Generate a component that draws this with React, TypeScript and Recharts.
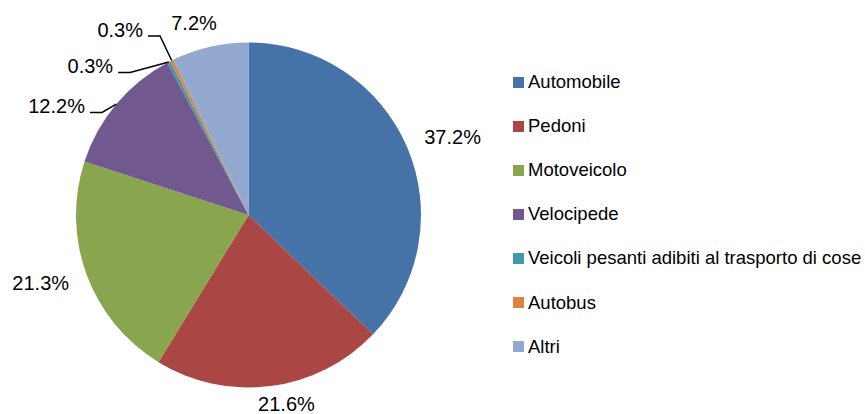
import { PieChart, Pie, Cell, Legend } from "recharts"

// Categories and share of victims (%)
const categories = [
  "Automobile",
  "Pedoni",
  "Motoveicolo",
  "Velocipede",
  "Veicoli pesanti adibiti al trasporto di cose",
  "Autobus",
  "Altri",
]
const shares = [37.2, 21.6, 21.3, 12.2, 0.3, 0.3, 7.2]
const colors = ["#4572A7", "#AA4643", "#89A54E", "#71588F", "#4198AF", "#DB843D", "#93A9CF"]

const data = categories.map((name, i) => ({ name, value: shares[i] }))

const FONT = "'Liberation Sans', Arial, sans-serif"
const RAD = Math.PI / 180

// label placement, relative to the slice's mid angle and outer radius
const outsideSpots: Record<number, { dr: number; da: number }> = {
  0: { dr: 46, da: -2.2 },
  1: { dr: 20, da: 4 },
  2: { dr: 46, da: -2.2 },
  6: { dr: 27, da: 2.9 },
}
// crowded slices get a leader line with an elbow
const leaderSpots: Record<number, { dr: number; angle: number }> = {
  3: { dr: 6.4, angle: 145 },
  4: { dr: 12.8, angle: 129.7 },
  5: { dr: 27.2, angle: 116.3 },
}

const renderLabel = (props: any) => {
  const { cx, cy, midAngle, outerRadius, index, value } = props
  const text = `${Number(value).toFixed(1)}%`
  const leader = leaderSpots[index]
  if (leader) {
    const sx = cx + outerRadius * Math.cos(-midAngle * RAD)
    const sy = cy + outerRadius * Math.sin(-midAngle * RAD)
    const r = outerRadius + leader.dr
    const ex = cx + r * Math.cos(-leader.angle * RAD)
    const ey = cy + r * Math.sin(-leader.angle * RAD)
    const hx = ex - 12
    return (
      <g key={`lbl-${index}`}>
        <polyline
          points={`${sx},${sy} ${ex},${ey} ${hx},${ey}`}
          fill="none"
          stroke="#000"
          strokeWidth={1.5}
        />
        <text
          x={hx - 5}
          y={ey - 6}
          textAnchor="end"
          dominantBaseline="central"
          fontFamily={FONT}
          fontSize={20}
          fill="#000"
        >
          {text}
        </text>
      </g>
    )
  }
  const spot = outsideSpots[index] || { dr: 20, da: 0 }
  const r = outerRadius + spot.dr
  const a = midAngle + spot.da
  const x = cx + r * Math.cos(-a * RAD)
  const y = cy + r * Math.sin(-a * RAD)
  return (
    <text
      key={`lbl-${index}`}
      x={x}
      y={y}
      textAnchor="middle"
      dominantBaseline="central"
      fontFamily={FONT}
      fontSize={20}
      fill="#000"
    >
      {text}
    </text>
  )
}

const renderLegend = () => (
  <div style={{ fontFamily: FONT, fontSize: 18.5, color: "#000" }}>
    {categories.map((name, i) => (
      <div
        key={name}
        style={{ height: 44.1, display: "flex", alignItems: "center", whiteSpace: "nowrap" }}
      >
        <span
          style={{
            display: "inline-block",
            width: 11,
            height: 11,
            background: colors[i],
            marginRight: 4,
          }}
        />
        <span>{name}</span>
      </div>
    ))}
  </div>
)

export default function App() {
  return (
    <div style={{ position: "absolute", left: 0, top: 0, background: "#fff" }}>
      <PieChart width={865} height={414} margin={{ top: 0, right: 0, bottom: 0, left: 0 }}>
        <Pie
          data={data}
          dataKey="value"
          nameKey="name"
          cx={248.5}
          cy={215}
          outerRadius={172.5}
          startAngle={90}
          endAngle={-270}
          stroke="none"
          label={renderLabel}
          labelLine={false}
          isAnimationActive={false}
        >
          {data.map((d, i) => (
            <Cell key={d.name} fill={colors[i]} />
          ))}
        </Pie>
        <Legend
          layout="vertical"
          align="right"
          verticalAlign="top"
          width={352}
          content={renderLegend}
          wrapperStyle={{ left: 513, top: 60, right: "auto" }}
        />
      </PieChart>
    </div>
  )
}
